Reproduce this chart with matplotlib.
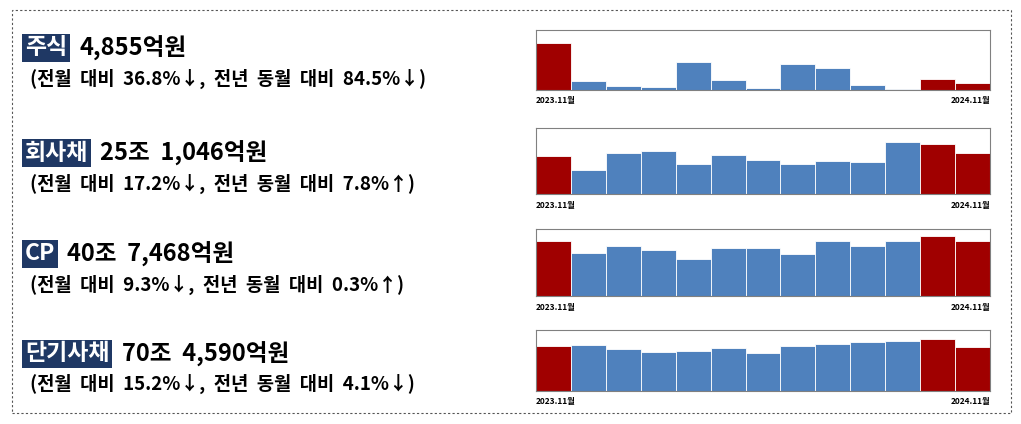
import matplotlib
matplotlib.use('Agg')
import matplotlib.pyplot as plt
from matplotlib.patches import Rectangle

plt.rcParams['font.family'] = ['Noto Sans CJK KR', 'DejaVu Sans']

# bar heights (relative units, 2023.11 ~ 2024.11)
stock = [47, 9, 4, 3, 28, 10, 2, 26, 22, 5, 1, 11, 7]
corp_bond = [38, 24, 41, 43, 30, 39, 34, 30, 33, 32, 52, 50, 41]
cp = [55, 43, 50, 46, 37, 48, 48, 42, 55, 50, 55, 60, 55]
short_bond = [45, 46, 42, 39, 40, 43, 38, 45, 47, 49, 50, 52, 44]
ylims = [60, 66, 67, 61]

names = ['주식', '회사채', 'CP', '단기사채']
amounts = ['4,855억원', '25조  1,046억원', '40조  7,468억원', '70조  4,590억원']
changes = ['(전월  대비  36.8%↓,  전년  동월  대비  84.5%↓)',
           '(전월  대비  17.2%↓,  전년  동월  대비  7.8%↑)',
           '(전월  대비  9.3%↓,  전년  동월  대비  0.3%↑)',
           '(전월  대비  15.2%↓,  전년  동월  대비  4.1%↓)']
series = [stock, corp_bond, cp, short_bond]

RED = '#A00000'
BLUE = '#4F81BD'
NAVY = '#1F3864'

W, H = 1021, 424
fig = plt.figure(figsize=(W / 100, H / 100), dpi=100)

# dashed outer frame
fig.patches.append(Rectangle((12 / W, 1 - 413 / H), 999 / W, 403 / H,
                             transform=fig.transFigure, fill=False,
                             ls=(0, (2, 2)), lw=0.8, ec='#555555'))

# axes boxes in pixels: (top, bottom)
boxes = [(30, 90), (128, 194), (229, 296), (330, 391)]
# left text rows: y of first line, y of second line
rows = [(48, 79), (153, 184), (254, 285), (354, 384)]

for i in range(4):
    top, bot = boxes[i]
    ax = fig.add_axes([536 / W, 1 - bot / H, 454 / W, (bot - top) / H])
    vals = series[i]
    colors = [RED if j in (0, 11, 12) else BLUE for j in range(len(vals))]
    ax.bar(range(len(vals)), vals, width=1.0, color=colors,
           edgecolor='white', linewidth=0.6)
    ax.set_xlim(-0.5, len(vals) - 0.5)
    ax.set_ylim(0, ylims[i])
    ax.set_xticks([])
    ax.set_yticks([])
    for s in ax.spines.values():
        s.set_color('#808080')
        s.set_linewidth(0.8)
    ax.text(0, -0.1, '2023.11월', transform=ax.transAxes, fontsize=6,
            fontweight='bold', ha='left', va='top')
    ax.text(1, -0.1, '2024.11월', transform=ax.transAxes, fontsize=6,
            fontweight='bold', ha='right', va='top')

    y1, y2 = rows[i]
    lab = fig.text(25 / W, 1 - y1 / H, names[i], fontsize=16.5, fontweight='bold',
                   color='white', va='center', ha='left',
                   bbox=dict(boxstyle='square,pad=0.12', fc=NAVY, ec='none'))
    fig.canvas.draw()
    bb = lab.get_window_extent()
    fig.text((bb.x1 + 12) / W, 1 - y1 / H, amounts[i], fontsize=17,
             fontweight='bold', va='center', ha='left')
    fig.text(30 / W, 1 - y2 / H, changes[i], fontsize=13.5,
             fontweight='bold', va='center', ha='left')

plt.savefig('out.png', dpi=100)
